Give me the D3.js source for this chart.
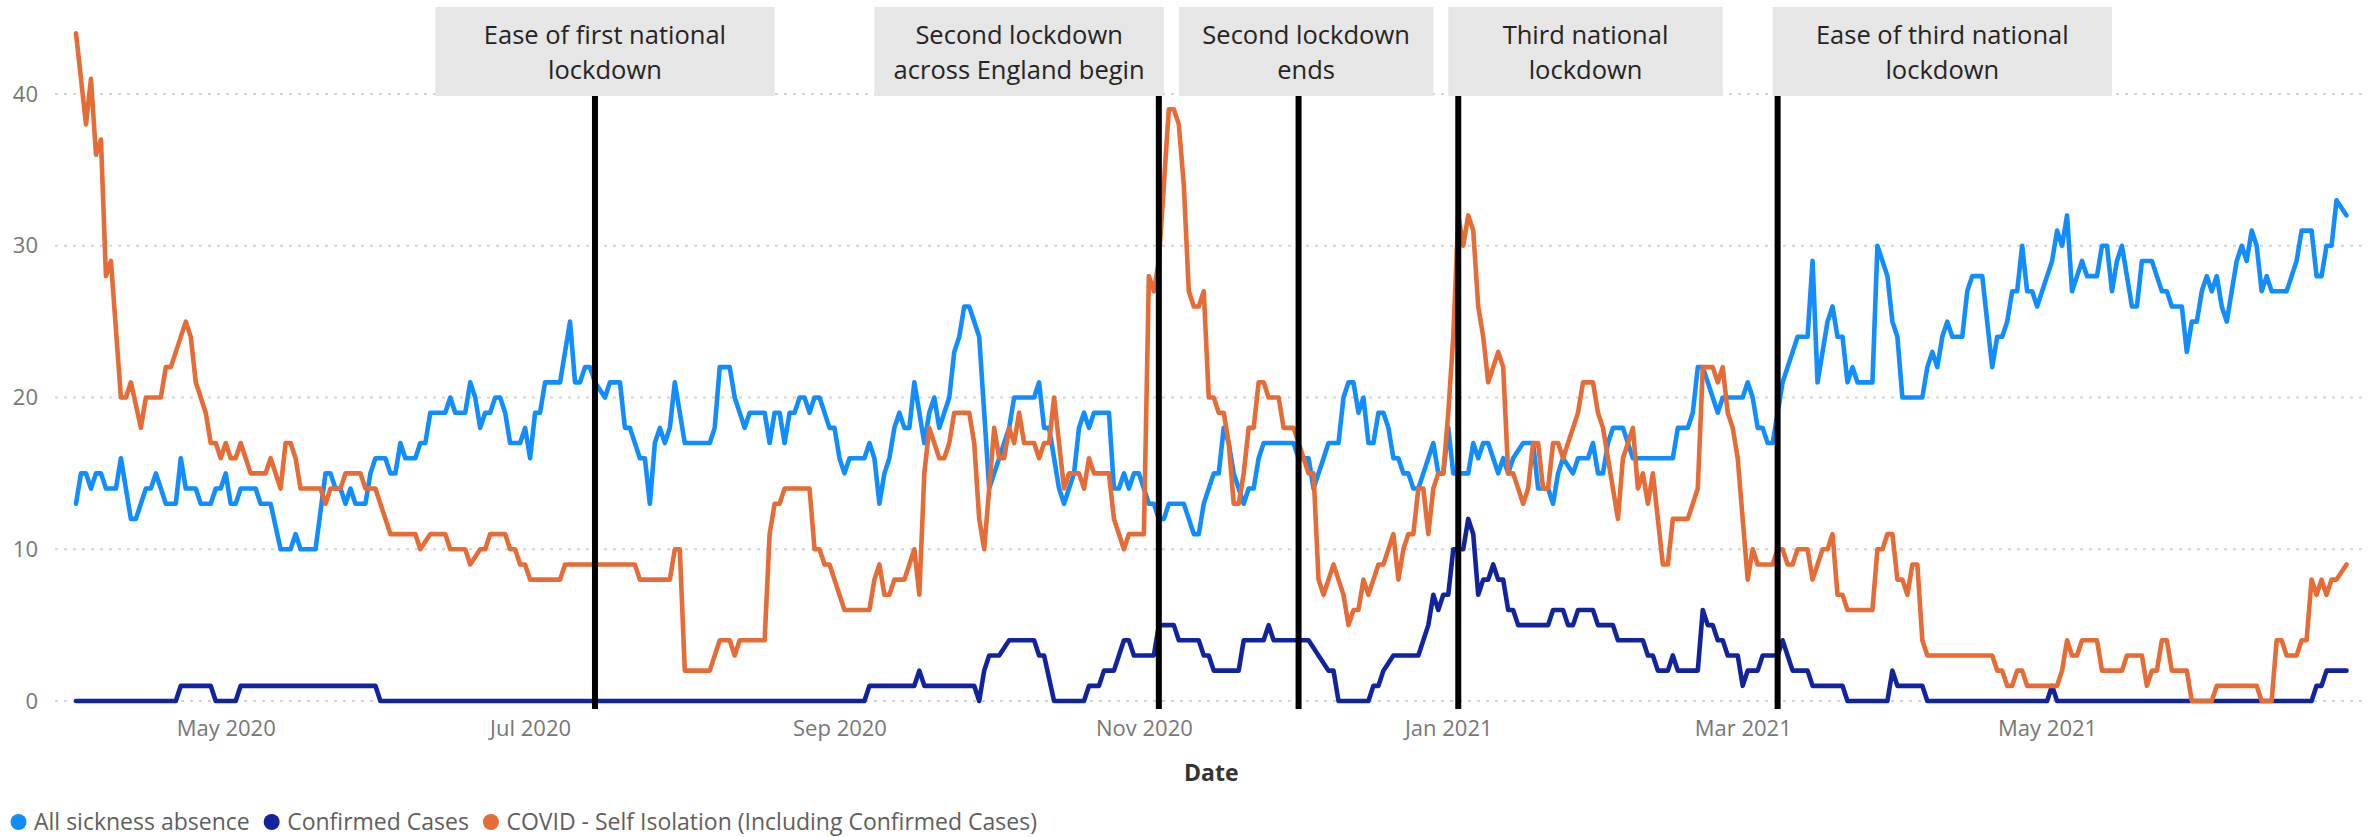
<!DOCTYPE html>
<html><head><meta charset="utf-8">
<script src="https://cdn.jsdelivr.net/npm/d3@7"></script>
<style>
html,body{margin:0;padding:0;background:#fff;}
svg{display:block;}
</style></head>
<body>
<svg id="chart" width="2372" height="837"></svg>
<script>
// ---------------- DATA ----------------
const startDate = "2020-04-01";   // day 0 of the series
const endDay = 455;                // 2021-06-30

// [day offset from startDate, value]
const sickness = [[0,13],[1,15],[2,15],[3,14],[4,15],[5,15],[6,14],[8,14],[9,16],[10,14],[11,12],[12,12],[14,14],[15,14],[16,15],[17,14],[18,13],[20,13],[21,16],[22,14],[24,14],[25,13],[27,13],[28,14],[29,14],[30,15],[31,13],[32,13],[33,14],[36,14],[37,13],[39,13],[41,10],[43,10],[44,11],[45,10],[48,10],[50,15],[51,15],[52,14],[53,14],[54,13],[55,14],[56,13],[58,13],[59,15],[60,16],[62,16],[63,15],[64,15],[65,17],[66,16],[68,16],[69,17],[70,17],[71,19],[74,19],[75,20],[76,19],[78,19],[79,21],[80,20],[81,18],[82,19],[83,19],[84,20],[85,20],[86,19],[87,17],[89,17],[90,18],[91,16],[92,19],[93,19],[94,21],[97,21],[99,25],[100,21],[101,21],[102,22],[103,22],[104,21],[106,20],[107,21],[109,21],[110,18],[111,18],[112,17],[113,16],[114,16],[115,13],[116,17],[117,18],[118,17],[119,18],[120,21],[121,19],[122,17],[127,17],[128,18],[129,22],[131,22],[132,20],[134,18],[135,19],[138,19],[139,17],[140,19],[141,19],[142,17],[143,19],[144,19],[145,20],[146,20],[147,19],[148,20],[149,20],[151,18],[152,18],[153,16],[154,15],[155,16],[158,16],[159,17],[160,16],[161,13],[162,15],[163,16],[164,18],[165,19],[166,18],[167,18],[168,21],[169,19],[170,17],[171,19],[172,20],[173,18],[174,19],[175,20],[176,23],[177,24],[178,26],[179,26],[181,24],[182,19],[183,14],[184,15],[185,16],[186,17],[187,18],[188,20],[192,20],[193,21],[194,18],[195,18],[196,16],[197,14],[198,13],[199,14],[200,15],[201,18],[202,19],[203,18],[204,19],[207,19],[208,14],[209,14],[210,15],[211,14],[212,15],[213,15],[214,14],[215,13],[216,13],[217,12],[218,12],[219,13],[220,13],[221,13],[222,13],[223,12],[224,11],[225,11],[226,13],[227,14],[228,15],[229,15],[230,18],[231,17],[232,15],[233,14],[234,13],[235,14],[236,14],[237,16],[238,17],[244,17],[245,16],[247,16],[248,14],[249,15],[250,16],[251,17],[253,17],[254,20],[255,21],[256,21],[257,19],[258,20],[259,17],[260,17],[261,19],[262,19],[263,18],[264,16],[265,16],[266,15],[267,15],[268,14],[269,14],[270,15],[271,16],[272,17],[273,15],[274,15],[275,18],[276,15],[279,15],[280,17],[281,16],[282,17],[283,17],[284,16],[285,15],[286,16],[287,15],[288,16],[290,17],[292,17],[293,14],[295,14],[296,13],[297,15],[298,16],[300,15],[301,16],[303,16],[304,17],[305,15],[306,15],[307,17],[308,18],[310,18],[312,16],[320,16],[321,18],[323,18],[324,19],[325,22],[326,22],[327,21],[328,20],[329,19],[330,20],[334,20],[335,21],[336,20],[337,18],[338,18],[339,17],[340,17],[341,19],[342,21],[343,22],[344,23],[345,24],[347,24],[348,29],[349,21],[350,23],[351,25],[352,26],[353,24],[354,24],[355,21],[356,22],[357,21],[360,21],[361,30],[362,29],[363,28],[364,25],[365,24],[366,20],[370,20],[371,22],[372,23],[373,22],[374,24],[375,25],[376,24],[378,24],[379,27],[380,28],[382,28],[383,25],[384,22],[385,24],[386,24],[387,25],[388,27],[389,27],[390,30],[391,27],[392,27],[393,26],[394,27],[395,28],[396,29],[397,31],[398,30],[399,32],[400,27],[401,28],[402,29],[403,28],[405,28],[406,30],[407,30],[408,27],[409,29],[410,30],[411,28],[412,26],[413,26],[414,29],[416,29],[417,28],[418,27],[419,27],[420,26],[422,26],[423,23],[424,25],[425,25],[426,27],[427,28],[428,27],[429,28],[430,26],[431,25],[432,27],[433,29],[434,30],[435,29],[436,31],[437,30],[438,27],[439,28],[440,27],[443,27],[444,28],[445,29],[446,31],[448,31],[449,28],[450,28],[451,30],[452,30],[453,33],[455,32]];

const confirmed = [[0,0],[20,0],[21,1],[27,1],[28,0],[32,0],[33,1],[60,1],[61,0],[158,0],[159,1],[168,1],[169,2],[170,1],[180,1],[181,0],[182,2],[183,3],[185,3],[187,4],[192,4],[193,3],[194,3],[196,0],[202,0],[203,1],[205,1],[206,2],[208,2],[209,3],[210,4],[211,4],[212,3],[216,3],[217,5],[220,5],[221,4],[225,4],[226,3],[227,3],[228,2],[233,2],[234,4],[238,4],[239,5],[240,4],[247,4],[249,3],[251,2],[252,2],[253,0],[259,0],[260,1],[261,1],[262,2],[264,3],[269,3],[270,4],[271,5],[272,7],[273,6],[274,7],[275,7],[276,10],[278,10],[279,12],[280,11],[281,7],[282,8],[283,8],[284,9],[285,8],[286,8],[287,6],[288,6],[289,5],[295,5],[296,6],[298,6],[299,5],[300,5],[301,6],[304,6],[305,5],[308,5],[309,4],[314,4],[315,3],[316,3],[317,2],[319,2],[320,3],[321,2],[325,2],[326,6],[327,5],[328,5],[329,4],[330,4],[331,3],[333,3],[334,1],[335,2],[337,2],[338,3],[341,3],[342,4],[343,3],[344,2],[347,2],[348,1],[354,1],[355,0],[363,0],[364,2],[365,1],[370,1],[371,0],[395,0],[396,1],[397,0],[448,0],[449,1],[450,1],[451,2],[455,2]];

const isolation = [[0,44],[2,38],[3,41],[4,36],[5,37],[6,28],[7,29],[9,20],[10,20],[11,21],[13,18],[14,20],[17,20],[18,22],[19,22],[22,25],[23,24],[24,21],[26,19],[27,17],[28,17],[29,16],[30,17],[31,16],[32,16],[33,17],[35,15],[38,15],[39,16],[41,14],[42,17],[43,17],[44,16],[45,14],[49,14],[50,13],[51,14],[53,14],[54,15],[57,15],[58,14],[60,14],[63,11],[68,11],[69,10],[71,11],[74,11],[75,10],[78,10],[79,9],[81,10],[82,10],[83,11],[86,11],[87,10],[88,10],[89,9],[90,9],[91,8],[97,8],[98,9],[112,9],[113,8],[119,8],[120,10],[121,10],[122,2],[127,2],[129,4],[131,4],[132,3],[133,4],[138,4],[139,11],[140,13],[141,13],[142,14],[147,14],[148,10],[149,10],[150,9],[151,9],[154,6],[159,6],[160,8],[161,9],[162,7],[163,7],[164,8],[166,8],[167,9],[168,10],[169,7],[170,15],[171,18],[172,17],[173,16],[174,16],[175,17],[176,19],[179,19],[180,17],[181,12],[182,10],[183,14],[184,18],[185,16],[186,16],[187,18],[188,17],[189,19],[190,17],[192,17],[193,16],[194,17],[195,17],[196,20],[197,17],[198,14],[199,15],[201,15],[202,14],[203,16],[204,15],[207,15],[208,12],[209,11],[210,10],[211,11],[214,11],[215,28],[216,27],[217,29],[218,34],[219,39],[220,39],[221,38],[222,34],[223,27],[224,26],[225,26],[226,27],[227,20],[228,20],[229,19],[230,19],[231,17],[232,13],[233,13],[234,15],[235,18],[236,18],[237,21],[238,21],[239,20],[241,20],[242,18],[244,18],[245,17],[246,16],[247,15],[248,15],[249,8],[250,7],[251,8],[252,9],[253,8],[254,7],[255,5],[256,6],[257,6],[258,8],[259,7],[260,8],[261,9],[262,9],[263,10],[264,11],[265,8],[266,10],[267,11],[268,11],[269,14],[270,14],[271,11],[272,14],[273,15],[274,15],[275,19],[276,24],[277,32],[278,30],[279,32],[280,31],[281,26],[282,24],[283,21],[284,22],[285,23],[286,22],[287,15],[288,15],[289,14],[290,13],[291,14],[292,17],[293,17],[294,14],[295,14],[296,17],[297,17],[298,16],[299,17],[300,18],[301,19],[302,21],[304,21],[305,19],[306,18],[307,16],[308,14],[309,12],[310,16],[311,17],[312,18],[313,14],[314,15],[315,13],[316,15],[317,12],[318,9],[319,9],[320,12],[323,12],[324,13],[325,14],[326,22],[328,22],[329,21],[330,22],[331,19],[332,18],[333,16],[335,8],[336,10],[337,9],[340,9],[341,10],[342,10],[343,9],[344,9],[345,10],[347,10],[348,8],[349,9],[350,10],[351,10],[352,11],[353,7],[354,7],[355,6],[360,6],[361,10],[362,10],[363,11],[364,11],[365,8],[366,8],[367,7],[368,9],[369,9],[370,4],[371,3],[384,3],[385,2],[386,2],[387,1],[388,1],[389,2],[390,2],[391,1],[397,1],[398,2],[399,4],[400,3],[401,3],[402,4],[405,4],[406,2],[410,2],[411,3],[414,3],[415,1],[416,2],[417,2],[418,4],[419,4],[420,2],[423,2],[424,0],[428,0],[429,1],[437,1],[438,0],[440,0],[441,4],[442,4],[443,3],[445,3],[446,4],[447,4],[448,8],[449,7],[450,8],[451,7],[452,8],[453,8],[455,9]];

const seriesNames = ["All sickness absence", "Confirmed Cases", "COVID - Self Isolation (Including Confirmed Cases)"];
const yTicks = [0, 10, 20, 30, 40];
const xTickDates = ["2020-05-01","2020-07-01","2020-09-01","2020-11-01","2021-01-01","2021-03-01","2021-05-01"];
const xTitle = "Date";

const eventDates = ["2020-07-14","2020-11-04","2020-12-02","2021-01-03","2021-03-08"];
const eventLabels = [
  ["Ease of first national","lockdown"],
  ["Second lockdown","across England begin"],
  ["Second lockdown","ends"],
  ["Third national","lockdown"],
  ["Ease of third national","lockdown"]
];

// ---------------- LAYOUT / STYLE ----------------
const colors = ["#118DFF", "#12239E", "#E66C37"];
const labelSpans = [ // date extent of each annotation box
  ["2020-06-12","2020-08-19"],
  ["2020-09-08","2020-11-05"],
  ["2020-11-08","2020-12-29"],
  ["2021-01-01","2021-02-25"],
  ["2021-03-07","2021-05-14"]
];
const FONT = "'Open Sans', 'Noto Sans', 'DejaVu Sans', sans-serif";

const parse = d3.utcParse("%Y-%m-%d");
const t0 = parse(startDate);
const x = d3.scaleUtc().domain([t0, d3.utcDay.offset(t0, endDay)]).range([76, 2346.5]);
const y = d3.scaleLinear().domain([0, 40]).range([701, 94]);
const dayX = d => x(d3.utcDay.offset(t0, d));

const svg = d3.select("#chart");

// gridlines
svg.append("g").selectAll("line").data(yTicks).join("line")
  .attr("x1", 55).attr("x2", 2362)
  .attr("y1", d => y(d)).attr("y2", d => y(d))
  .attr("stroke", "#d4d4d4").attr("stroke-width", 2)
  .attr("stroke-dasharray", "3,6");

// y axis
const yAxis = svg.append("g").attr("transform", "translate(38,0)")
  .call(d3.axisLeft(y).tickValues(yTicks).tickSize(0).tickPadding(0));
yAxis.select(".domain").remove();
yAxis.selectAll("text").attr("font-family", FONT).attr("font-size", 22).attr("fill", "#777");

// x axis
const xAxis = svg.append("g").attr("transform", "translate(0,720)")
  .call(d3.axisBottom(x).tickValues(xTickDates.map(parse)).tickFormat(d3.utcFormat("%b %Y")).tickSize(0).tickPadding(0));
xAxis.select(".domain").remove();
xAxis.selectAll("text").attr("font-family", FONT).attr("font-size", 22).attr("fill", "#777");

svg.append("text").attr("x", (x.range()[0] + x.range()[1]) / 2).attr("y", 781)
  .attr("text-anchor", "middle").attr("font-family", FONT).attr("font-size", 23)
  .attr("font-weight", 700).attr("fill", "#333").text(xTitle);

// lines
const line = d3.line().x(d => dayX(d[0])).y(d => y(d[1]));
const allSeries = [sickness, confirmed, isolation];
svg.append("g").selectAll("path").data(allSeries).join("path")
  .attr("d", line).attr("fill", "none")
  .attr("stroke", (d, i) => colors[i]).attr("stroke-width", 4.6)
  .attr("stroke-linejoin", "round").attr("stroke-linecap", "round");

// annotation boxes
const boxes = svg.append("g");
labelSpans.forEach((s, i) => {
  const x0 = x(parse(s[0])), x1 = x(parse(s[1]));
  boxes.append("rect").attr("x", x0).attr("y", 7).attr("width", x1 - x0).attr("height", 89)
    .attr("fill", "#e6e6e6");
  eventLabels[i].forEach((t, j) => {
    boxes.append("text").attr("x", (x0 + x1) / 2).attr("y", 44 + j * 35)
      .attr("text-anchor", "middle").attr("font-family", FONT).attr("font-size", 25.5)
      .attr("fill", "#252423").text(t);
  });
});

// event lines
svg.append("g").selectAll("line").data(eventDates).join("line")
  .attr("x1", d => x(parse(d))).attr("x2", d => x(parse(d)))
  .attr("y1", 96).attr("y2", 709)
  .attr("stroke", "#000").attr("stroke-width", 6);

// legend
const legend = svg.append("g");
let cx = 18.5;
seriesNames.forEach((name, i) => {
  legend.append("circle").attr("cx", cx).attr("cy", 822).attr("r", 8).attr("fill", colors[i]);
  const t = legend.append("text").attr("x", cx + 15.5).attr("y", 830)
    .attr("font-family", FONT).attr("font-size", 23).attr("fill", "#605E5C").text(name);
  const w = t.node().getComputedTextLength();
  cx = cx + 15.5 + w + 22;
});
</script>
</body></html>
